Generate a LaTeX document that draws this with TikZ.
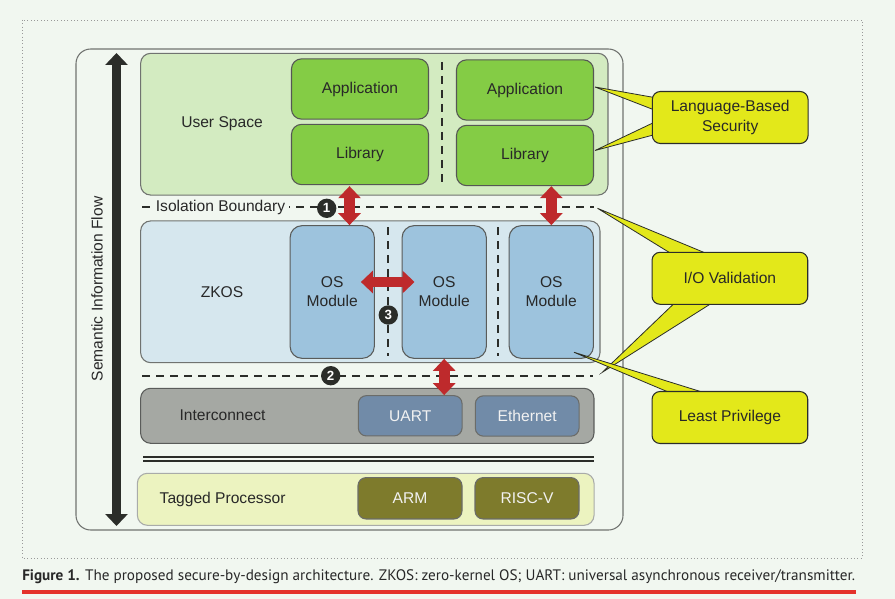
\documentclass[tikz,border=0pt]{standalone}
\usepackage{fontspec}
\setmainfont{Liberation Sans}
\newfontfamily\capfont{PT Sans}
\usetikzlibrary{arrows.meta,calc}

\definecolor{pagebg}{RGB}{241,247,240}
\definecolor{userfill}{RGB}{211,235,193}
\definecolor{appfill}{RGB}{132,204,69}
\definecolor{zkosfill}{RGB}{214,231,238}
\definecolor{osfill}{RGB}{157,195,221}
\definecolor{icfill}{RGB}{165,168,163}
\definecolor{devfill}{RGB}{113,139,168}
\definecolor{procfill}{RGB}{236,243,192}
\definecolor{cpufill}{RGB}{126,123,44}
\definecolor{callfill}{RGB}{227,232,26}
\definecolor{arrowred}{RGB}{190,42,44}
\definecolor{flowblack}{RGB}{43,45,41}
\definecolor{edgegray}{RGB}{112,115,112}
\definecolor{inktext}{RGB}{40,40,40}
\definecolor{capred}{RGB}{228,50,43}

\newcommand{\boxfont}{\fontsize{11.7}{14.3}\selectfont}

\tikzset{
  layerbox/.style={draw=edgegray, line width=0.8pt, rounded corners=7.5pt, inner sep=0pt},
  unitbox/.style={draw=#1, line width=0.8pt, inner sep=0pt, align=center, font=\boxfont, text=inktext},
  appbox/.style={unitbox=flowblack!80, fill=appfill, rounded corners=7.5pt, minimum width=102.75pt, minimum height=45.2pt},
  osbox/.style={unitbox=edgegray!80!black, fill=osfill, rounded corners=9pt, minimum width=63.2pt, minimum height=99.5pt},
  devbox/.style={unitbox=flowblack!70, fill=devfill, rounded corners=6pt, minimum width=77.8pt, minimum height=30.2pt, text=white!95!black},
  cpubox/.style={unitbox=flowblack!70, fill=cpufill, rounded corners=6pt, minimum width=78pt, minimum height=31pt, text=white!95!black},
  callbox/.style={unitbox=flowblack, fill=callfill, rounded corners=6pt, minimum width=116.8pt, minimum height=39pt},
  calltail/.style={draw=flowblack, fill=callfill, line width=0.6pt},
  sepline/.style={draw=flowblack, line width=1.5pt, dash pattern=on 6pt off 4.5pt},
  bigred/.style={draw=arrowred, line width=8pt, {Triangle[width=16.5pt,length=9pt]}-{Triangle[width=16.5pt,length=9pt]}},
  numdot/.style={circle, fill=flowblack, text=white, minimum size=14.5pt, inner sep=0pt, font=\bfseries\fontsize{10}{10}\selectfont},
}

\begin{document}
\begin{tikzpicture}[x=0.75pt,y=0.75pt,yscale=-1,xscale=1]
\useasboundingbox (0,0) rectangle (895,599);
\fill[pagebg] (0,0) rectangle (895,599);

%Shape: Rectangle [dotted frame]
\draw [draw=gray!80, line width=0.5pt, dotted] (22,20) rectangle (862,558);
%Shape: Rectangle [outer]
\draw [draw=edgegray, line width=0.8pt, rounded corners=11pt] (76,49) rectangle (623,530);
%Straight Lines [semantic flow]
\draw [draw=flowblack, line width=6.5pt, {Triangle[width=16.5pt,length=9pt]}-{Triangle[width=16.5pt,length=9pt]}] (116.5,53) -- (116.5,526);

%Shape: Rectangle [user space]
\node [layerbox, fill=userfill, minimum width=350.5pt, minimum height=106.3pt] (us) at (374.3,124.2) {};
\node [appbox] (app1) at (360,89) {Application};
\node [appbox] (lib1) at (360,154.5) {Library};
\node [appbox] (app2) at (525,90) {Application};
\node [appbox] (lib2) at (525,155.5) {Library};
%Straight Lines
\draw [sepline] (442,62) -- (442,182);

%Shape: Rectangle [zkos]
\node [layerbox, fill=zkosfill, minimum width=344.5pt, minimum height=106.3pt] (zkos) at (370.3,291.8) {};
%Straight Lines
\draw [sepline] (388.3,227) -- (388.3,356);
%Straight Lines
\draw [sepline] (498.3,227) -- (498.3,356);
\node [osbox] (os1) at (332.2,292) {OS\\Module};
\node [osbox] (os2) at (444.2,292) {OS\\Module};
\node [osbox] (os3) at (551.3,292) {OS\\Module};

%Straight Lines [isolation boundary]
\draw [sepline] (142,207) -- (594,207);
\coordinate (isoR) at (597.5,208.3);
%Straight Lines [second boundary]
\draw [sepline] (142,375.7) -- (593,375.7);
\coordinate (sepR) at (602.3,372.3);

%Shape: Rectangle [interconnect]
\node [layerbox, fill=icfill, draw=edgegray!80!black, minimum width=340pt, minimum height=41.25pt] (ic) at (367.3,415.8) {};
\node [devbox] (uart) at (410.2,415.8) {UART};
\node [devbox] (eth) at (527.2,416) {Ethernet};

%Straight Lines [double rule]
\draw [draw=flowblack, line width=1.2pt] (143,456.7) -- (594,456.7);
\draw [draw=flowblack, line width=1.2pt] (143,461) -- (594,461);

%Shape: Rectangle [tagged processor]
\node [layerbox, fill=procfill, draw=edgegray!60, minimum width=342.5pt, minimum height=39pt] (tp) at (365.7,499.3) {};
\node [cpubox] (arm) at (410,498.3) {ARM};
\node [cpubox] (risc) at (527,498.3) {RISC-V};

% Text Node
\draw (222,124) node [font=\boxfont, text=inktext] (uslabel) {User Space};
% Text Node
\draw (222,292) node [font=\boxfont, text=inktext] (zkoslabel) {ZKOS};
% Text Node
\draw (222.5,415.7) node [font=\boxfont, text=inktext] (iclabel) {Interconnect};
% Text Node
\draw (222.6,499.3) node [font=\boxfont, text=inktext] (tplabel) {Tagged Processor};
% Text Node
\draw (220.5,207) node [fill=pagebg, inner sep=3pt, font=\boxfont, text=inktext] (isolabel) {Isolation Boundary};
% Text Node
\draw (97,289) node [rotate=90, font=\boxfont, text=inktext] (flowlabel) {Semantic Information Flow};

%Red arrows
\draw [bigred] ($(lib1.south)+(-10.5,1)$) coordinate (a1) -- (a1 |- os1.north);
\draw [bigred] (os3.north) -- (os3.north |- lib2.south);
\draw [bigred] ($(os1.east)+(-14,-10)$) -- ($(os2.west)+(13,-10)$);
\draw [bigred] (os2.south) -- (os2.south |- uart.north);

%Numbers
\node [numdot] (n1) at (326.7,208.3) {1};
\node [numdot] (n2) at (330.7,375.7) {2};
\node [numdot] (n3) at (388.3,315) {3};

%Callout tails
\draw [calltail] (657,98) -- ($(app2.east)+(1,-3)$) -- (657,111) -- cycle;
\draw [calltail] (657,121) -- ($(lib2.east)+(1,-5)$) -- (657,134) -- cycle;
\draw [calltail] (676.7,257) -- (isoR) -- (715,257) -- cycle;
\draw [calltail] (677.7,300) -- (sepR) -- (716.7,300) -- cycle;
\draw [calltail] (677.7,396) -- ($(os3.south east)+(-20,-6.6)$) -- (715,396) -- cycle;

%Callouts
\node [callbox] (lbs) at (730.2,117.5) {Language-Based\\Security};
\node [callbox] (iov) at (729.9,278.3) {I/O Validation};
\node [callbox] (lp) at (729.9,417.5) {Least Privilege};

% Text Node [caption]
\draw (22,577) node [anchor=west, inner sep=0pt, text=inktext] (caption) {\capfont\fontsize{11.4}{14}\selectfont\textbf{Figure 1.} The proposed secure-by-design architecture. ZKOS: zero-kernel OS; UART: universal asynchronous receiver/transmitter.};
%Straight Lines [caption rule]
\draw [draw=capred, line width=2.6pt] (22,592) -- (856,592);

\end{tikzpicture}
\end{document}
